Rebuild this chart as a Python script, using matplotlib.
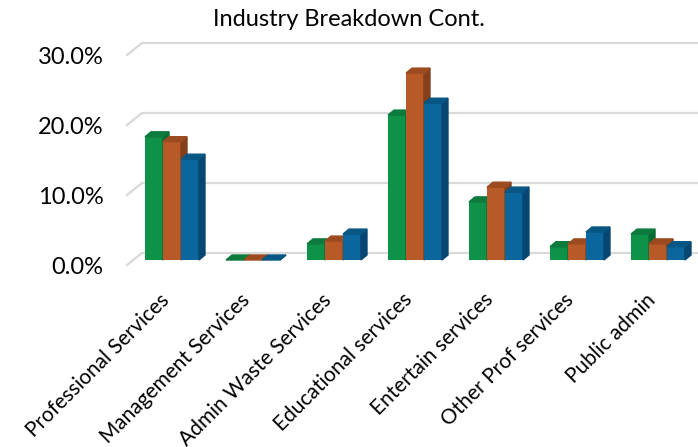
import numpy as np
import matplotlib
matplotlib.use("Agg")
import matplotlib.pyplot as plt
from matplotlib.patches import Polygon
from matplotlib.transforms import ScaledTranslation

plt.rcParams['font.family'] = ['Lato', 'DejaVu Sans']

# data (percent)
categories = ['Professional Services', 'Management Services', 'Admin Waste Services',
              'Educational services', 'Entertain services', 'Other Prof services', 'Public admin']
series_green = [17.6, 0.0, 2.3, 20.7, 8.3, 1.9, 3.7]
series_orange = [16.9, 0.0, 2.7, 26.7, 10.4, 2.3, 2.3]
series_blue = [14.4, 0.0, 3.7, 22.4, 9.7, 4.0, 1.9]
y_ticks = [0, 10, 20, 30]

fig = plt.figure(figsize=(6.98, 4.47), dpi=100)
ax = fig.add_axes([127 / 698, (447 - 265) / 447, 571 / 698, 229 / 447])

# pixel -> data conversion (81 px per category, 70 px per 10%)
px_x = 1 / 81.0
px_y = 10 / 70.0
x_lo, x_hi = -45 * px_x, 526 * px_x
ax.set_xlim(x_lo, x_hi)
ax.set_ylim(0, 229 * px_y)

# back wall gridlines with a little 3D floor diagonal
for t in y_ticks:
    xs = [x_lo, x_lo + 15 * px_x, x_hi]
    ys = [t, t + 12 * px_y, t + 12 * px_y]
    ax.plot(xs, ys, color='#d9d9d9', lw=1.6, zorder=1, clip_on=False)

x = np.arange(len(categories))
w = 0.222
base = 5 * px_y
dx, dy = 6 * px_x, 5 * px_y

colors = [('#0e9148', '#0a6a34', '#0b7a3c'),
          ('#b85a27', '#84401b', '#9c4b20'),
          ('#0a669c', '#064670', '#085683')]
allseries = [series_green, series_orange, series_blue]

z = 2
for k, (vals, (front, side, top)) in enumerate(zip(allseries, colors)):
    xc = x + (k - 1) * w
    for xi, v in zip(xc, vals):
        ax.bar(xi, v, width=w, bottom=base, color=front, zorder=z)
        r = xi + w / 2
        l = xi - w / 2
        h = base + v
        ax.add_patch(Polygon([(r, base), (r + dx, base + dy), (r + dx, h + dy), (r, h)],
                             closed=True, color=side, zorder=z))
        ax.add_patch(Polygon([(l, h), (l + dx, h + dy), (r + dx, h + dy), (r, h)],
                             closed=True, color=top, zorder=z))
    z += 1

ax.set_yticks(y_ticks)
ax.set_yticklabels(['%.1f%%' % t for t in y_ticks], fontsize=17)
ax.set_xticks(x)
ax.set_xticklabels(categories, rotation=45, ha='right', rotation_mode='anchor', fontsize=15)
ax.tick_params(axis='y', length=0, pad=17)
ax.tick_params(axis='x', length=0, pad=12)
shift = ScaledTranslation(-13 / 100, -8 / 100, fig.dpi_scale_trans)
for lab in ax.get_xticklabels():
    lab.set_transform(lab.get_transform() + shift)
for s in ax.spines.values():
    s.set_visible(False)

fig.text(0.5, 1 - 20 / 447, 'Industry Breakdown Cont.', ha='center', va='center', fontsize=17)

fig.savefig('out.png', dpi=100)
